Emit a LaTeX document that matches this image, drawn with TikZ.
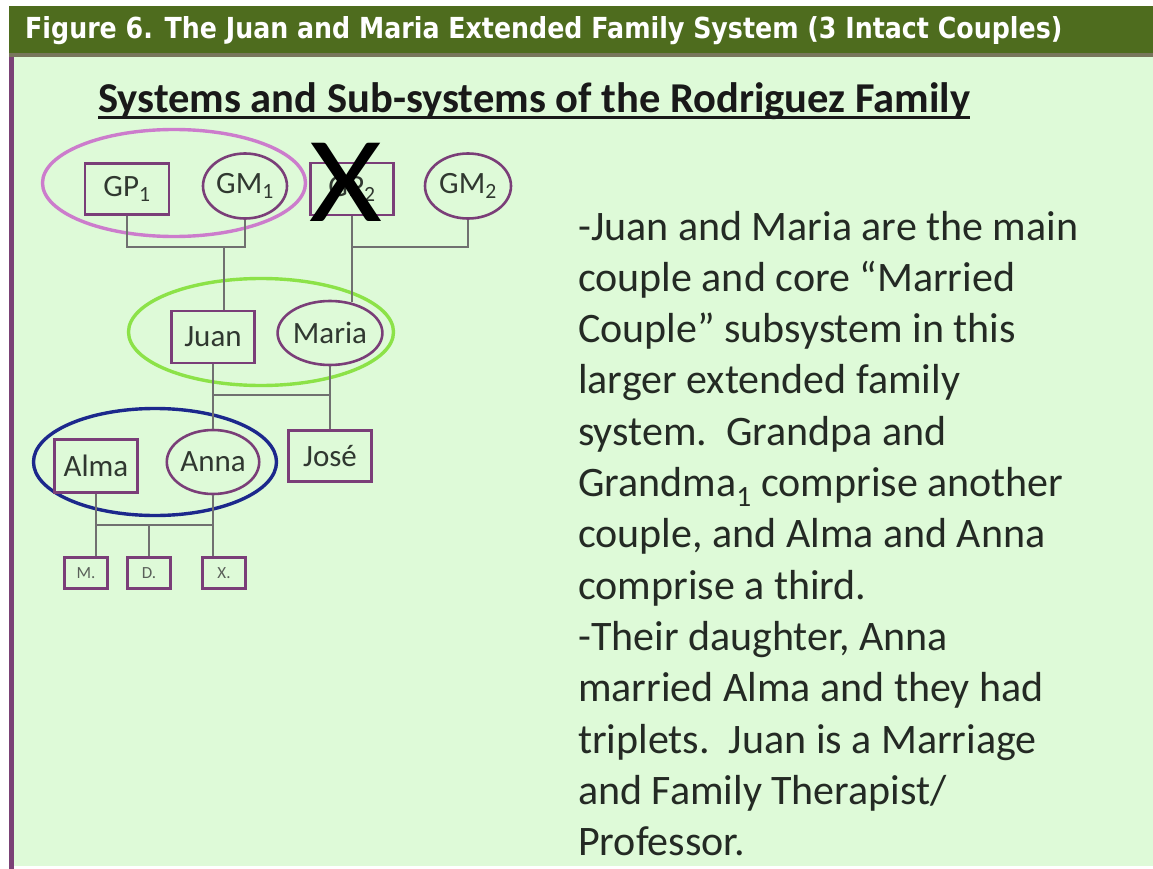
\documentclass[tikz,border=0pt]{standalone}
\usepackage{fontspec}
\setmainfont{Carlito}
\newfontfamily\hdrfont{DejaVu Sans}
\usetikzlibrary{shapes.geometric}

\definecolor{hdrgreen}{RGB}{78,108,30}
\definecolor{hdrshade}{RGB}{120,118,92}
\definecolor{panel}{RGB}{222,250,216}
\definecolor{edgeline}{RGB}{122,66,118}
\definecolor{kin}{RGB}{122,62,120}
\definecolor{pinkring}{RGB}{204,124,204}
\definecolor{limering}{RGB}{140,226,72}
\definecolor{bluering}{RGB}{28,40,140}
\definecolor{wirecol}{RGB}{112,112,112}
\definecolor{ink}{RGB}{48,56,48}
\definecolor{bodyink}{RGB}{36,42,36}

\begin{document}
\begin{tikzpicture}[x=1pt,y=-1pt,
  kinbox/.style={draw=kin, line width=2.6pt, rectangle, inner sep=0pt,
    text=ink, font=\fontsize{31}{32}\selectfont},
  kinoval/.style={draw=kin, line width=2.6pt, ellipse, inner sep=0pt,
    text=ink, font=\fontsize{31}{32}\selectfont},
  kidbox/.style={draw=kin, line width=2.4pt, rectangle, inner sep=0pt,
    minimum width=43pt, minimum height=31pt, text=ink!80,
    font=\fontsize{17}{18}\selectfont},
  ring/.style={draw=#1, line width=3.4pt, ellipse, inner sep=0pt},
  wire/.style={draw=wirecol, line width=2pt},
  body/.style={anchor=base west, inner sep=0pt, text=bodyink,
    font=\fontsize{42}{51}\selectfont}
]
\useasboundingbox (0,0) rectangle (1153,869);

% page background, header band and left rule
\fill[white] (0,0) rectangle (1153,869);
\fill[panel] (9,54) rectangle (1153,866);
\fill[hdrgreen] (9,6) rectangle (1153,53);
\fill[hdrshade] (9,53) rectangle (1153,57);
\fill[edgeline] (9,57) rectangle (14,869);

% header and title
\node[anchor=base west, inner sep=0pt, text=white] (hdr) at (25,39)
  {\resizebox{1037pt}{22pt}{\hdrfont\bfseries Figure 6. The Juan and Maria Extended Family System (3 Intact Couples)}};
\node[anchor=base west, inner sep=0pt, text=black!90] (title) at (98,113)
  {\resizebox{872pt}{!}{\bfseries Systems and Sub-systems of the Rodriguez Family}};
\draw[black!90, line width=3pt] ([yshift=-5pt]title.base west) -- ([yshift=-5pt]title.base east);

% couple subsystems
\node[ring=pinkring, minimum width=263pt, minimum height=107pt] (ringGP) at (174,183) {};
\node[ring=limering, minimum width=265pt, minimum height=107pt] (ringJM) at (261,332) {};
\node[ring=bluering, minimum width=243pt, minimum height=107pt] (ringAA) at (155,462) {};

% grandparents
\node[kinbox, minimum width=84pt, minimum height=51pt] (GP1) at (127,189) {GP\textsubscript{1}};
\node[kinoval, minimum width=84pt, minimum height=65pt] (GM1) at (245,186) {GM\textsubscript{1}};
\node[kinbox, minimum width=83pt, minimum height=52pt] (GP2) at (352,189) {GP\textsubscript{2}};
\node[kinoval, minimum width=86pt, minimum height=65pt] (GM2) at (468,186) {GM\textsubscript{2}};

% parents and their children
\node[kinbox, minimum width=83pt, minimum height=52pt] (Juan) at (213,337) {Juan};
\node[kinoval, minimum width=83pt, minimum height=64pt] (Maria) at (330,333) {Maria};
\node[kinbox, minimum width=83pt, minimum height=53pt] (Alma) at (96,466) {Alma};
\node[kinoval, minimum width=83pt, minimum height=64pt] (Anna) at (213,462) {Anna};
\node[kinbox, minimum width=83pt, minimum height=51pt] (Jose) at (330,456) {José};

% triplets
\node[kidbox] (M) at (86,573) {M.};
\node[kidbox] (D) at (149,573) {D.};
\node[kidbox] (Xk) at (224,573) {X.};

% connector bars
\coordinate (bar1) at (0,247);
\coordinate (bar2) at (0,395);
\coordinate (bar3) at (0,525);

\draw[wire] (GP1.south) -- (GP1.south |- bar1) -| (GM1.south);
\draw[wire] ([xshift=11pt]Juan.north |- bar1) -- ([xshift=11pt]Juan.north);
\draw[wire] (GP2.south) -- (GP2.south |- Maria.55);
\draw[wire] (GP2.south |- bar1) -| (GM2.south);

\draw[wire] (Juan.south) -- (Juan.south |- bar2) -| (Maria.south);
\draw[wire] (Juan.south |- bar2) -- (Anna.north);
\draw[wire] (Maria.south |- bar2) -- (Jose.north);

\draw[wire] (Alma.south) -- (Alma.south |- M.north);
\draw[wire] (Anna.south) -- (Anna.south |- Xk.north);
\draw[wire] (Alma.south |- bar3) -- (Anna.south |- bar3);
\draw[wire] (D.north |- bar3) -- (D.north);

% crossed-out grandfather
\node[anchor=base, inner sep=0pt, text=black, font=\fontsize{122}{122}\selectfont] (cross) at (346,222) {\scalebox{1.15}[1]{X}};

% explanatory text
\foreach \line [count=\i from 0] in {
  {-Juan and Maria are the main},
  {couple and core “Married},
  {Couple” subsystem in this},
  {larger extended family},
  {system.\ \ Grandpa and},
  {Grandma\textsubscript{1} comprise another},
  {couple, and Alma and Anna},
  {comprise a third.},
  {-Their daughter, Anna},
  {married Alma and they had},
  {triplets.\ \ Juan is a Marriage},
  {and Family Therapist/},
  {Professor.}}
  \node[body] (txt\i) at (578,240+51.3*\i) {\line};
\end{tikzpicture}
\end{document}
